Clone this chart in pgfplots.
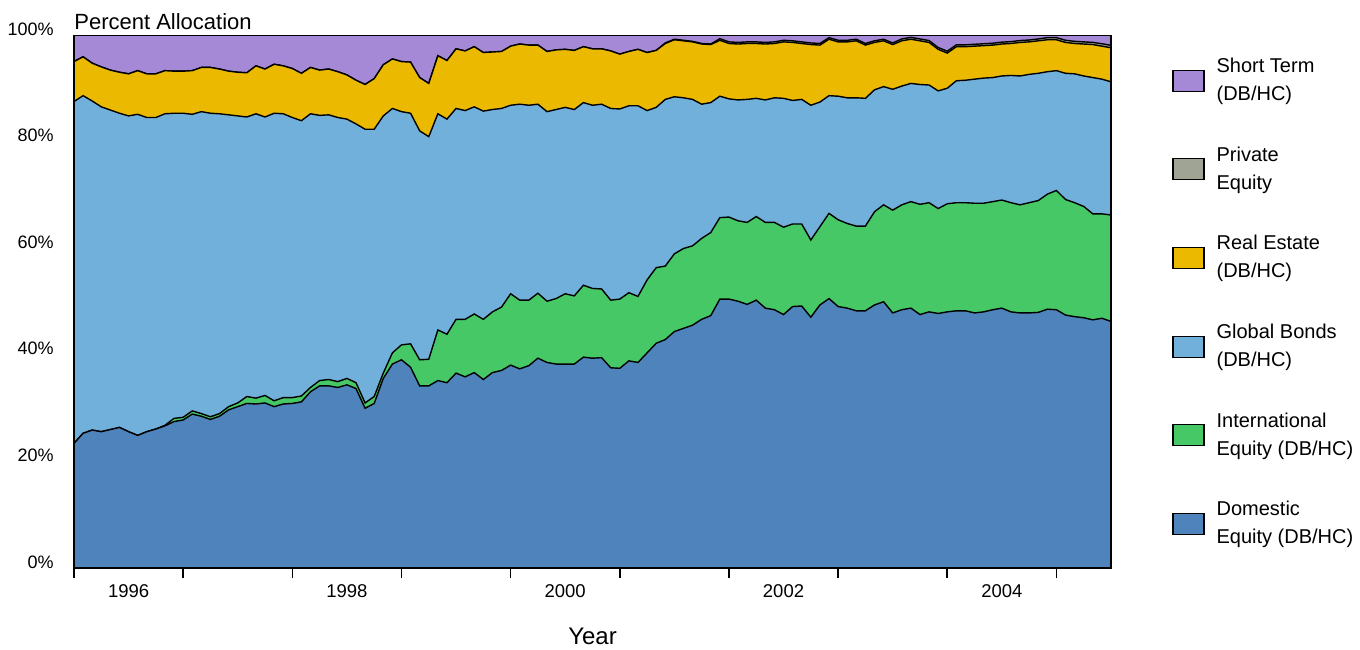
\documentclass[border=0pt]{standalone}
\usepackage{fontspec}
\setmainfont{Liberation Sans}
\usepackage{pgfplots}
\pgfplotsset{compat=1.18}
\usepackage{pgfplotstable}

\definecolor{cST}{RGB}{165,137,214}
\definecolor{cPE}{RGB}{160,164,148}
\definecolor{cRE}{RGB}{235,185,0}
\definecolor{cGB}{RGB}{114,176,220}
\definecolor{cIE}{RGB}{70,200,102}
\definecolor{cDE}{RGB}{79,131,188}

% cumulative tops of each band (percent), one row per month, m = 0 is Jan 1996
\pgfplotstableread{
m dom intl bonds re pe st
0 23.4 23.4 87.6 95.1 95.1 100
1 25.3 25.3 88.7 96.0 96.0 100
2 25.9 25.9 87.7 94.8 94.8 100
3 25.6 25.6 86.6 94.1 94.1 100
4 26.0 26.0 86.0 93.5 93.5 100
5 26.4 26.4 85.4 93.1 93.1 100
6 25.6 25.6 84.9 92.8 92.8 100
7 24.9 24.9 85.2 93.4 93.4 100
8 25.6 25.6 84.6 92.8 92.8 100
9 26.1 26.1 84.6 92.8 92.8 100
10 26.7 26.8 85.3 93.4 93.4 100
11 27.5 28.1 85.4 93.3 93.3 100
12 27.8 28.3 85.4 93.3 93.3 100
13 28.9 29.5 85.2 93.4 93.4 100
14 28.5 29.0 85.7 94.0 94.0 100
15 27.9 28.4 85.4 94.0 94.0 100
16 28.5 29.0 85.3 93.7 93.7 100
17 29.7 30.3 85.1 93.3 93.3 100
18 30.3 31.0 84.9 93.1 93.1 100
19 30.9 32.2 84.7 93.0 93.0 100
20 30.8 31.9 85.3 94.3 94.3 100
21 31.0 32.4 84.7 93.7 93.7 100
22 30.3 31.4 85.4 94.6 94.6 100
23 30.8 32.0 85.3 94.3 94.3 100
24 30.9 32.0 84.6 93.8 93.8 100
25 31.2 32.3 84.0 92.9 92.9 100
26 33.1 33.9 85.3 94.0 94.0 100
27 34.2 35.2 85.0 93.5 93.5 100
28 34.2 35.4 85.1 93.7 93.7 100
29 33.9 35.0 84.6 93.2 93.2 100
30 34.4 35.6 84.3 92.6 92.6 100
31 33.7 34.8 83.4 91.6 91.6 100
32 30.0 31.0 82.4 90.8 90.8 100
33 30.9 32.2 82.4 91.9 91.9 100
34 35.6 36.6 84.9 94.5 94.5 100
35 38.3 40.4 86.3 95.6 95.6 100
36 39.1 41.9 85.7 95.1 95.1 100
37 37.7 42.1 85.4 95.0 95.0 100
38 34.2 39.1 82.1 92.1 92.1 100
39 34.2 39.2 81.0 91.0 91.0 100
40 35.2 44.7 85.3 96.2 96.2 100
41 34.8 43.9 84.3 95.3 95.3 100
42 36.6 46.7 86.3 97.5 97.5 100
43 35.9 46.7 85.9 97.1 97.1 100
44 36.7 47.7 86.6 97.9 97.9 100
45 35.4 46.7 85.8 96.8 96.8 100
46 36.7 48.1 86.1 96.9 96.9 100
47 37.1 49.0 86.3 97.0 97.0 100
48 38.1 51.5 86.9 98.0 98.0 100
49 37.4 50.3 87.1 98.4 98.4 100
50 38.0 50.3 86.9 98.2 98.2 100
51 39.4 51.6 87.1 98.2 98.2 100
52 38.6 50.1 85.7 97.0 97.0 100
53 38.3 50.6 86.1 97.3 97.3 100
54 38.3 51.5 86.5 97.4 97.4 100
55 38.3 51.1 86.1 97.2 97.2 100
56 39.6 53.1 87.4 97.9 97.9 100
57 39.4 52.5 86.9 97.5 97.5 100
58 39.5 52.4 87.1 97.5 97.5 100
59 37.6 50.3 86.3 97.1 97.1 100
60 37.5 50.5 86.2 96.5 96.5 100
61 38.9 51.7 86.8 97.0 97.0 100
62 38.6 51.0 86.8 97.4 97.4 100
63 40.4 54.1 85.9 96.8 96.8 100
64 42.2 56.4 86.5 97.2 97.2 100
65 42.9 56.7 88.0 98.5 98.6 100
66 44.4 59.0 88.5 99.2 99.3 100
67 45.0 60.0 88.3 99.0 99.1 100
68 45.6 60.5 88.0 98.8 98.9 100
69 46.7 61.9 87.1 98.4 98.5 100
70 47.4 63.0 87.4 98.3 98.4 100
71 50.5 65.8 88.6 99.1 99.4 100
72 50.5 65.9 88.1 98.5 98.8 100
73 50.1 65.2 87.9 98.4 98.7 100
74 49.5 64.9 88.0 98.5 98.8 100
75 50.3 66.0 88.2 98.5 98.8 100
76 48.8 64.9 87.9 98.4 98.7 100
77 48.5 64.9 88.3 98.5 98.8 100
78 47.6 64.0 88.2 98.8 99.1 100
79 49.1 64.6 87.8 98.7 99.0 100
80 49.2 64.6 88.0 98.5 98.8 100
81 47.1 61.6 86.9 98.3 98.6 100
82 49.4 64.1 87.5 98.2 98.5 100
83 50.6 66.6 88.7 99.3 99.6 100
84 49.1 65.4 88.6 98.8 99.1 100
85 48.8 64.7 88.3 98.8 99.1 100
86 48.3 64.2 88.3 99.0 99.3 100
87 48.3 64.2 88.2 98.2 98.5 100
88 49.4 66.9 89.8 98.7 99.0 100
89 50.0 68.2 90.4 99.0 99.3 100
90 47.9 67.2 89.9 98.3 98.6 100
91 48.5 68.2 90.5 99.0 99.35 100
92 48.8 68.8 91.0 99.3 99.65 100
93 47.6 68.3 90.8 99.0 99.35 100
94 48.1 68.6 90.7 98.7 99.05 100
95 47.8 67.5 89.6 97.4 97.75 100
96 48.1 68.4 90.1 96.7 97.05 100
97 48.3 68.6 91.5 97.9 98.25 100
98 48.3 68.6 91.6 97.9 98.25 100
99 47.9 68.5 91.8 98.0 98.35 100
100 48.1 68.5 92.0 98.1 98.45 100
101 48.5 68.8 92.1 98.2 98.55 100
102 48.8 69.1 92.4 98.4 98.75 100
103 48.1 68.6 92.5 98.5 98.85 100
104 47.9 68.2 92.4 98.7 99.05 100
105 47.9 68.6 92.7 98.8 99.15 100
106 48.0 69.0 92.9 99.0 99.35 100
107 48.6 70.2 93.2 99.2 99.6 100
108 48.5 70.9 93.4 99.2 99.6 100
109 47.5 69.2 92.9 98.7 99.1 100
110 47.2 68.6 92.8 98.5 98.9 100
111 47.0 67.9 92.4 98.4 98.8 100
112 46.6 66.5 92.1 98.3 98.7 100
113 46.9 66.5 91.8 98.0 98.45 100
114 46.3 66.3 91.3 97.7 98.15 100
}\datatable

\begin{document}
\begin{tikzpicture}
\path[use as bounding box] (-37bp,-41bp) rectangle (643bp,284bp);
\begin{axis}[
  at={(0,0)}, anchor=south west,
  scale only axis, width=518.5bp, height=266.25bp,
  xmin=0, xmax=114, ymin=0, ymax=100,
  axis on top,
  axis line style={black, line width=0.8bp},
  xtick={6,30,54,78,102},
  xticklabels={1996,1998,2000,2002,2004},
  minor xtick={0,12,...,108},
  xtick align=outside,
  xtick pos=left, ytick pos=left,
  major tick length=0pt, minor tick length=5bp,
  minor tick style={black, line width=0.8bp},
  xticklabel style={anchor=north, inner sep=0pt, yshift=-8bp, font=\fontsize{9.25bp}{11bp}\selectfont},
  ytick={0,20,40,60,80,100},
  yticklabels={0\%,20\%,40\%,60\%,80\%,100\%},
  yticklabel style={anchor=base east, inner sep=0pt, xshift=-10bp, font=\fontsize{9bp}{11bp}\selectfont},
  xlabel={Year},
  xlabel style={at={(axis description cs:0.5,0)}, anchor=center, yshift=-34bp, font=\fontsize{12bp}{14bp}\selectfont},
  every axis title shift=0pt,
  title={Percent Allocation},
  title style={at={(axis description cs:0,1)}, anchor=base west, inner sep=0pt, yshift=2.75bp, font=\fontsize{11bp}{13bp}\selectfont},
  legend style={at={(axis description cs:1,1)}, anchor=north west, xshift=30.5bp, yshift=-11bp,
    draw=none, fill=none, inner sep=0pt, row sep=21.6bp, column sep=6bp,
    nodes={align=left, inner sep=0pt, font=\fontsize{10bp}{14bp}\selectfont}},
  legend cell align=left,
  legend image code/.code={\draw[#1, line width=0.6bp] (0bp,-5.25bp) rectangle (15.5bp,5.25bp);},
  every axis plot/.append style={draw=black, line width=0.7bp},
]
\addplot[fill=cST] table[x=m, y=st]{\datatable} \closedcycle;
\addlegendentry{Short Term\\(DB/HC)}
\addplot[fill=cPE] table[x=m, y=pe]{\datatable} \closedcycle;
\addlegendentry{Private\\Equity}
\addplot[fill=cRE] table[x=m, y=re]{\datatable} \closedcycle;
\addlegendentry{Real Estate\\(DB/HC)}
\addplot[fill=cGB] table[x=m, y=bonds]{\datatable} \closedcycle;
\addlegendentry{Global Bonds\\(DB/HC)}
\addplot[fill=cIE] table[x=m, y=intl]{\datatable} \closedcycle;
\addlegendentry{International\\Equity (DB/HC)}
\addplot[fill=cDE] table[x=m, y=dom]{\datatable} \closedcycle;
\addlegendentry{Domestic\\Equity (DB/HC)}
\end{axis}
\end{tikzpicture}
\end{document}
